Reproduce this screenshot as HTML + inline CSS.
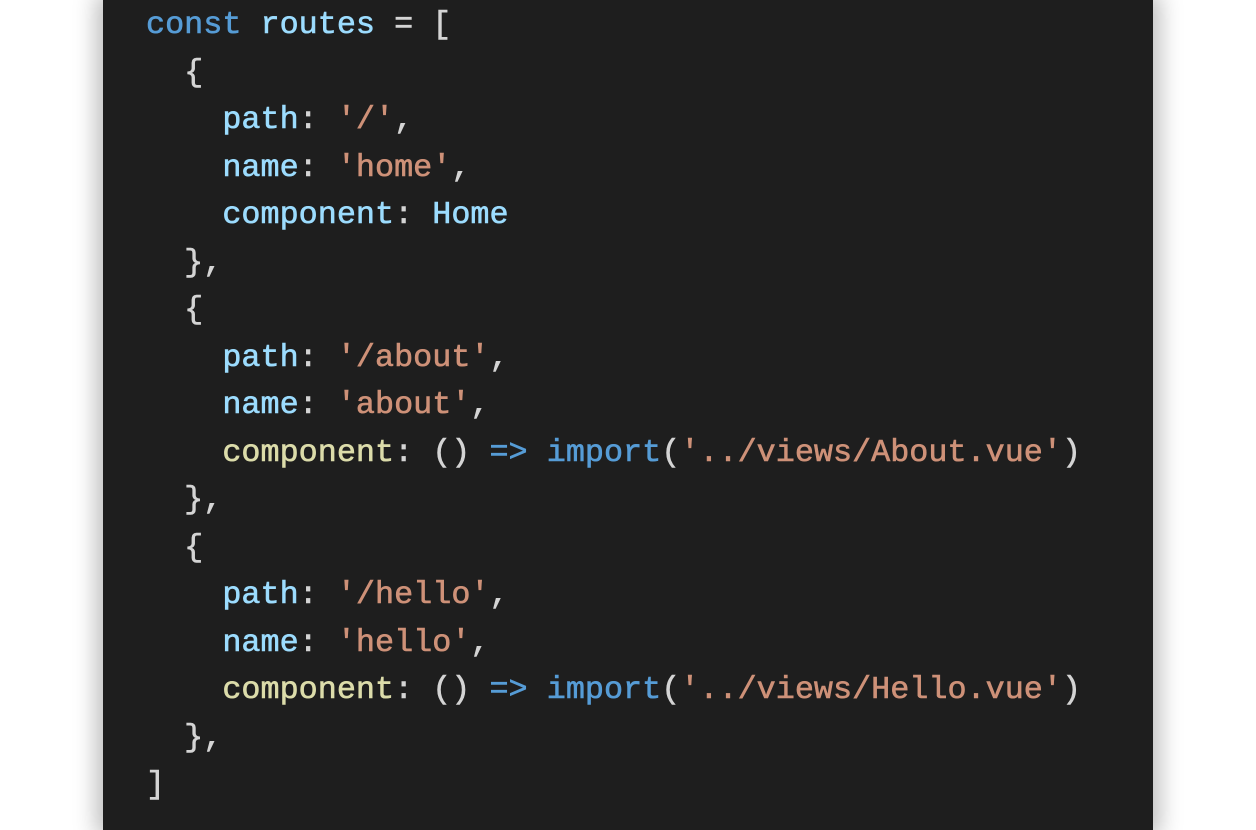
<!DOCTYPE html>
<html><head><meta charset="utf-8"><style>
html,body{margin:0;padding:0;width:1256px;height:830px;background:#fff;overflow:hidden}
.panel{position:absolute;left:103px;top:0;width:1050px;height:830px;background:#1e1e1e;box-shadow:0 0 22px 6px rgba(0,0,0,0.28)}
pre{position:absolute;left:146px;top:2px;margin:0;font-family:"Liberation Mono","DejaVu Sans Mono",monospace;font-size:31.8px;line-height:47.5px;color:#d4d4d4;font-weight:normal;-webkit-text-stroke:0.6px}
.k{color:#569cd6}.v{color:#9cdcfe}.s{color:#ce9178}.f{color:#dcdcaa}.p{color:#d4d4d4}
</style></head><body>
<div class="panel"></div>
<pre><span class="k">const</span> <span class="v">routes</span> = [
  {
    <span class="v">path</span>: <span class="s">'/'</span>,
    <span class="v">name</span>: <span class="s">'home'</span>,
    <span class="v">component</span>: <span class="v">Home</span>
  },
  {
    <span class="v">path</span>: <span class="s">'/about'</span>,
    <span class="v">name</span>: <span class="s">'about'</span>,
    <span class="f">component</span>: () <span class="k">=&gt;</span> <span class="k">import</span>(<span class="s">'../views/About.vue'</span>)
  },
  {
    <span class="v">path</span>: <span class="s">'/hello'</span>,
    <span class="v">name</span>: <span class="s">'hello'</span>,
    <span class="f">component</span>: () <span class="k">=&gt;</span> <span class="k">import</span>(<span class="s">'../views/Hello.vue'</span>)
  },
]</pre>
</body></html>
